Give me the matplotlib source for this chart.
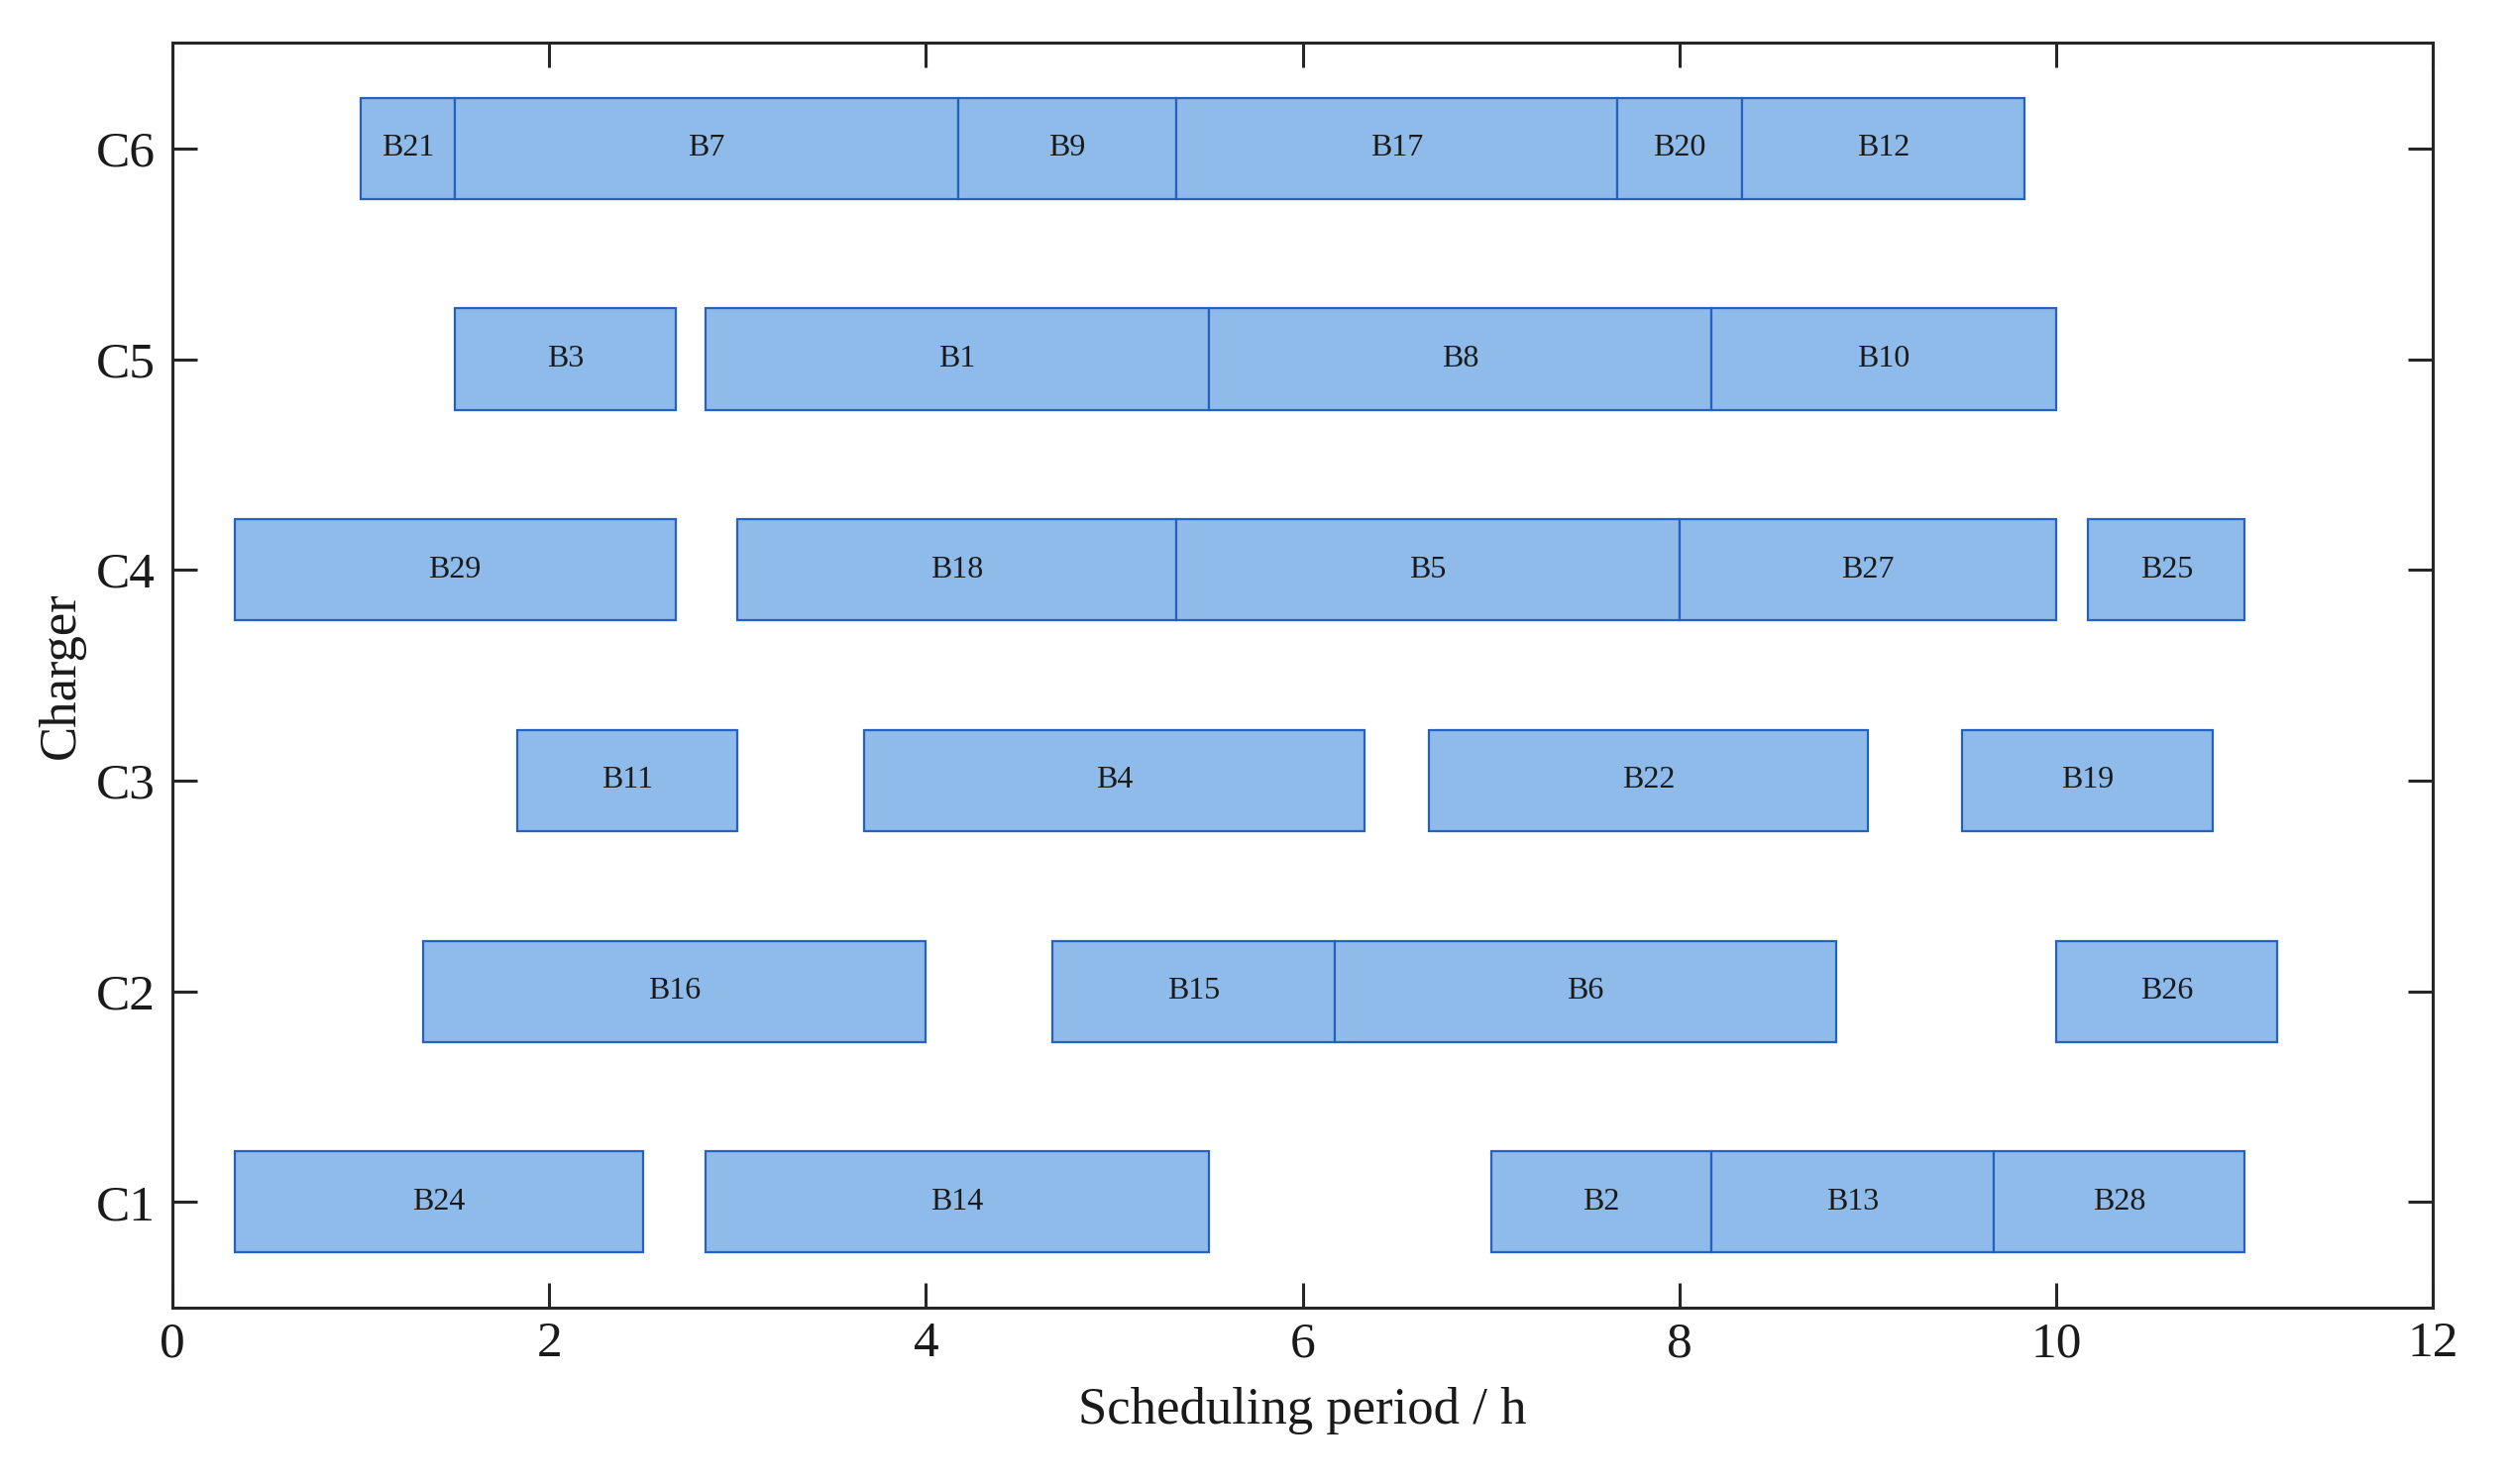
import numpy as np
import matplotlib.pyplot as plt

plt.rcParams['font.family'] = ['Liberation Serif', 'DejaVu Serif']

chargers = ['C1', 'C2', 'C3', 'C4', 'C5', 'C6']

# (bus label, start h, end h) per charger
c1_jobs = [('B24', 0.33, 2.5), ('B14', 2.83, 5.5), ('B2', 7.0, 8.17),
           ('B13', 8.17, 9.67), ('B28', 9.67, 11.0)]
c2_jobs = [('B16', 1.33, 4.0), ('B15', 4.67, 6.17), ('B6', 6.17, 8.83),
           ('B26', 10.0, 11.17)]
c3_jobs = [('B11', 1.83, 3.0), ('B4', 3.67, 6.33), ('B22', 6.67, 9.0),
           ('B19', 9.5, 10.83)]
c4_jobs = [('B29', 0.33, 2.67), ('B18', 3.0, 5.33), ('B5', 5.33, 8.0),
           ('B27', 8.0, 10.0), ('B25', 10.17, 11.0)]
c5_jobs = [('B3', 1.5, 2.67), ('B1', 2.83, 5.5), ('B8', 5.5, 8.17),
           ('B10', 8.17, 10.0)]
c6_jobs = [('B21', 1.0, 1.5), ('B7', 1.5, 4.17), ('B9', 4.17, 5.33),
           ('B17', 5.33, 7.67), ('B20', 7.67, 8.33), ('B12', 8.33, 9.83)]

schedule = [c1_jobs, c2_jobs, c3_jobs, c4_jobs, c5_jobs, c6_jobs]

fill_color = '#8fbbeb'
edge_color = '#2562c0'

fig = plt.figure(figsize=(12.675, 7.49), dpi=200)
ax = fig.add_axes([0.0686, 0.119, 0.900, 0.852])

for row, jobs in enumerate(schedule, start=1):
    for name, t0, t1 in jobs:
        ax.barh(row, t1 - t0, left=t0, height=0.48, color=fill_color,
                edgecolor=edge_color, linewidth=0.8)
        ax.text((t0 + t1) / 2, row, name, ha='center', va='center',
                fontsize=11.5, color='#1a1a1a')

ax.set_xlim(0, 12)
ax.set_ylim(0.5, 6.5)
ax.set_xticks(np.arange(0, 13, 2))
ax.set_yticks(range(1, 7))
ax.set_yticklabels(chargers)
ax.tick_params(direction='in', length=9, width=1.1, labelsize=18.5,
               top=True, right=True, color='#262626', labelcolor='#1a1a1a')
ax.tick_params(axis='x', pad=5)
ax.tick_params(axis='y', pad=6)
for sp in ax.spines.values():
    sp.set_linewidth(1.1)
    sp.set_color('#262626')

ax.set_xlabel('Scheduling period / h', fontsize=19, color='#1a1a1a', labelpad=7)
ax.set_ylabel('Charger', fontsize=19, color='#1a1a1a', labelpad=4)

fig.savefig('out.png')
